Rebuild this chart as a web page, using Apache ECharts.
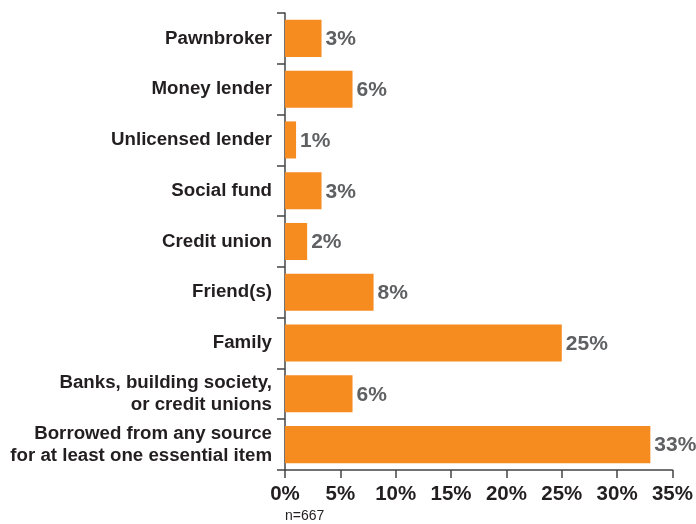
<!DOCTYPE html>
<html>
<head>
<meta charset="utf-8">
<style>html,body{margin:0;padding:0;background:#fff;}#c{width:696px;height:524px;}</style>
<script src="https://cdn.jsdelivr.net/npm/echarts@6/dist/echarts.min.js"></script>
</head>
<body>
<div id="c"></div>
<script>
const categories = [
  'Pawnbroker',
  'Money lender',
  'Unlicensed lender',
  'Social fund',
  'Credit union',
  'Friend(s)',
  'Family',
  'Banks, building society,\nor credit unions',
  'Borrowed from any source\nfor at least one essential item'
];
const values = [3.3, 6.1, 1, 3.3, 2, 8, 25, 6.1, 33];
const valueLabels = ['3%', '6%', '1%', '3%', '2%', '8%', '25%', '6%', '33%'];
const xTicks = { min: 0, max: 35, interval: 5 };
const note = 'n=667';

const FONT = '"Liberation Sans", Arial, sans-serif';
const chart = echarts.init(document.getElementById('c'), null, { renderer: 'canvas' });
chart.setOption({
  animation: false,
  grid: { left: 285, right: 23, top: 13, bottom: 54, containLabel: false },
  xAxis: {
    type: 'value',
    min: xTicks.min, max: xTicks.max, interval: xTicks.interval,
    splitLine: { show: false },
    axisLine: { show: true, lineStyle: { color: '#444', width: 1.5 } },
    axisTick: { show: true, length: 8, lineStyle: { color: '#444', width: 1.5 } },
    axisLabel: {
      formatter: '{value}%', margin: 14,
      fontFamily: FONT, fontWeight: 'bold',
      fontSize: 20.5, color: '#231f20'
    }
  },
  yAxis: {
    type: 'category', inverse: true, data: categories,
    axisLine: { show: true, lineStyle: { color: '#444', width: 1.5 } },
    axisTick: { show: true, length: 8, alignWithLabel: false, lineStyle: { color: '#444', width: 1.5 } },
    axisLabel: {
      margin: 13, align: 'right',
      fontFamily: FONT, fontWeight: 'bold',
      fontSize: 18.7, lineHeight: 22, color: '#231f20'
    }
  },
  series: [{
    type: 'bar',
    data: values,
    barWidth: '73%',
    itemStyle: { color: '#F68B1F' },
    label: {
      show: true, position: 'right', distance: 4,
      formatter: p => valueLabels[p.dataIndex],
      fontFamily: FONT, fontWeight: 'bold',
      fontSize: 21, color: '#5f6062', offset: [0, 1]
    }
  }],
  graphic: [{
    type: 'text', left: 285, top: 509,
    style: { text: note, fontFamily: FONT, fontSize: 14, fill: '#231f20' }
  }]
});
</script>
</body>
</html>
